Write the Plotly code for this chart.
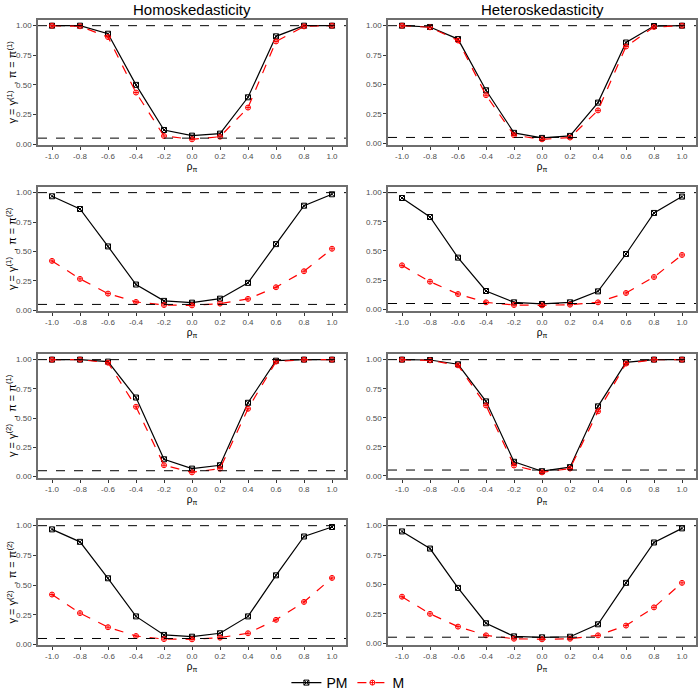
import plotly.graph_objects as go

rho = [-1.0, -0.8, -0.6, -0.4, -0.2, 0.0, 0.2, 0.4, 0.6, 0.8, 1.0]
columns = ["Homoskedasticity", "Heteroskedasticity"]
row_labels = [
    "γ = γ<sup>(1)</sup>  , π = π<sup>(1)</sup>",
    "γ = γ<sup>(1)</sup>  , π = π<sup>(2)</sup>",
    "γ = γ<sup>(2)</sup>  , π = π<sup>(1)</sup>",
    "γ = γ<sup>(2)</sup>  , π = π<sup>(2)</sup>",
]
hlines = [0.05, 1.0]

# rows: (gamma, pi) ; columns: homo, hetero
pm_homo_g1p1 = [1.00, 1.00, 0.932, 0.50, 0.119, 0.071, 0.088, 0.395, 0.91, 1.00, 1.00]
m_homo_g1p1 = [1.00, 0.995, 0.904, 0.435, 0.068, 0.040, 0.062, 0.308, 0.867, 0.994, 1.00]
pm_het_g1p1 = [1.00, 0.989, 0.886, 0.451, 0.089, 0.046, 0.063, 0.346, 0.857, 0.997, 1.00]
m_het_g1p1 = [1.00, 0.986, 0.874, 0.409, 0.069, 0.034, 0.049, 0.28, 0.823, 0.989, 1.00]

pm_homo_g1p2 = [0.969, 0.861, 0.543, 0.219, 0.080, 0.065, 0.099, 0.233, 0.5625, 0.889, 0.986]
m_homo_g1p2 = [0.42, 0.267, 0.142, 0.071, 0.045, 0.042, 0.057, 0.097, 0.196, 0.332, 0.523]
pm_het_g1p2 = [0.954, 0.791, 0.443, 0.157, 0.060, 0.046, 0.060, 0.154, 0.474, 0.826, 0.966]
m_het_g1p2 = [0.377, 0.237, 0.131, 0.060, 0.037, 0.034, 0.040, 0.060, 0.14, 0.277, 0.466]

pm_homo_g2p1 = [1.00, 1.00, 0.983, 0.676, 0.148, 0.068, 0.097, 0.631, 0.991, 1.00, 1.00]
m_homo_g2p1 = [1.00, 1.00, 0.974, 0.597, 0.097, 0.036, 0.068, 0.58, 0.983, 1.00, 1.00]
pm_het_g2p1 = [1.00, 0.997, 0.96, 0.641, 0.121, 0.040, 0.075, 0.598, 0.977, 1.00, 1.00]
m_het_g2p1 = [1.00, 0.994, 0.951, 0.606, 0.089, 0.030, 0.063, 0.555, 0.966, 1.00, 1.00]

pm_homo_g2p2 = [0.969, 0.864, 0.557, 0.236, 0.080, 0.065, 0.094, 0.236, 0.582, 0.909, 0.989]
m_homo_g2p2 = [0.42, 0.264, 0.145, 0.071, 0.045, 0.043, 0.057, 0.094, 0.207, 0.358, 0.56]
pm_het_g2p2 = [0.951, 0.805, 0.47, 0.169, 0.057, 0.049, 0.054, 0.16, 0.513, 0.857, 0.977]
m_het_g2p2 = [0.395, 0.249, 0.14, 0.066, 0.037, 0.032, 0.037, 0.066, 0.149, 0.304, 0.513]

panels = [
    [(pm_homo_g1p1, m_homo_g1p1), (pm_het_g1p1, m_het_g1p1)],
    [(pm_homo_g1p2, m_homo_g1p2), (pm_het_g1p2, m_het_g1p2)],
    [(pm_homo_g2p1, m_homo_g2p1), (pm_het_g2p1, m_het_g2p1)],
    [(pm_homo_g2p2, m_homo_g2p2), (pm_het_g2p2, m_het_g2p2)],
]

W = H = 700.0
col_px = [(38, 346), (388, 696)]
row_px = [(20, 145), (187, 311), (354, 478), (520, 645)]

fig = go.Figure()
layout = dict(
    width=700, height=700,
    margin=dict(l=0, r=0, t=0, b=0, autoexpand=False),
    paper_bgcolor="white", plot_bgcolor="white",
    font=dict(family="Liberation Sans, Arial, sans-serif", color="#4D4D4D"),
    showlegend=True,
    legend=dict(orientation="h", x=0.497, xanchor="center", y=1 - 683 / H, yanchor="middle",
                font=dict(size=14, color="black"), itemwidth=30, tracegroupgap=0),
)
shapes = []
annotations = []

idx = 0
for r in range(4):
    for c in range(2):
        idx += 1
        pm, m = panels[r][c]
        xa = "x" if idx == 1 else f"x{idx}"
        ya = "y" if idx == 1 else f"y{idx}"
        fig.add_trace(go.Scatter(
            x=rho, y=pm, mode="lines+markers", name="PM", xaxis=xa, yaxis=ya,
            line=dict(color="black", width=1.2),
            marker=dict(symbol="square-x-open", size=5, color="black", line=dict(width=1)),
            showlegend=(idx == 1), legendgroup="PM"))
        fig.add_trace(go.Scatter(
            x=rho, y=m, mode="lines+markers", name="M", xaxis=xa, yaxis=ya,
            line=dict(color="red", width=1.2, dash="dash"),
            marker=dict(symbol="circle-cross-open", size=5, color="red", line=dict(width=1)),
            showlegend=(idx == 1), legendgroup="M"))
        vals = pm + m + hlines
        lo, hi = min(vals), max(vals)
        pad = 0.05 * (hi - lo)
        x0, x1 = col_px[c]
        y0, y1 = row_px[r]
        axis_common = dict(showgrid=False, zeroline=False, showline=True, mirror=True,
                           linecolor="#6E6E6E", linewidth=1.5, automargin=False,
                           ticks="outside", ticklen=3, tickcolor="#333333", tickwidth=0.8,
                           tickfont=dict(size=8, color="#4D4D4D"))
        layout["xaxis" if idx == 1 else f"xaxis{idx}"] = dict(
            axis_common, domain=[x0 / W, x1 / W], anchor=ya, range=[-1.1, 1.1],
            tickvals=rho, ticktext=[f"{v:.1f}" for v in rho],
            title=dict(text="ρ<sub>π</sub>", font=dict(size=10, color="black"), standoff=2))
        layout["yaxis" if idx == 1 else f"yaxis{idx}"] = dict(
            axis_common, domain=[1 - y1 / H, 1 - y0 / H], anchor=xa,
            range=[lo - pad, hi + pad],
            tickvals=[0, 0.25, 0.5, 0.75, 1.0], ticktext=["0.00", "0.25", "0.50", "0.75", "1.00"])
        for h in hlines:
            shapes.append(dict(type="line", xref=f"{xa} domain", yref=ya, x0=0, x1=1, y0=h, y1=h,
                               line=dict(color="black", width=1, dash="dash")))
    annotations.append(dict(text=row_labels[r], textangle=-90, x=11 / W, y=1 - (sum(row_px[r]) / 2) / H,
                            xref="paper", yref="paper", showarrow=False,
                            font=dict(size=11, color="black"), xanchor="center", yanchor="middle"))

for c in range(2):
    annotations.append(dict(text=columns[c], x=(sum(col_px[c]) / 2) / W, y=1 - 10 / H,
                            xref="paper", yref="paper", showarrow=False,
                            font=dict(size=15, color="black"), xanchor="center", yanchor="middle"))

layout["shapes"] = shapes
layout["annotations"] = annotations
fig.update_layout(**layout)
fig.write_html("out.html", config={"displayModeBar": False},
               post_script="document.body.style.margin='0';document.body.style.padding='0';")
